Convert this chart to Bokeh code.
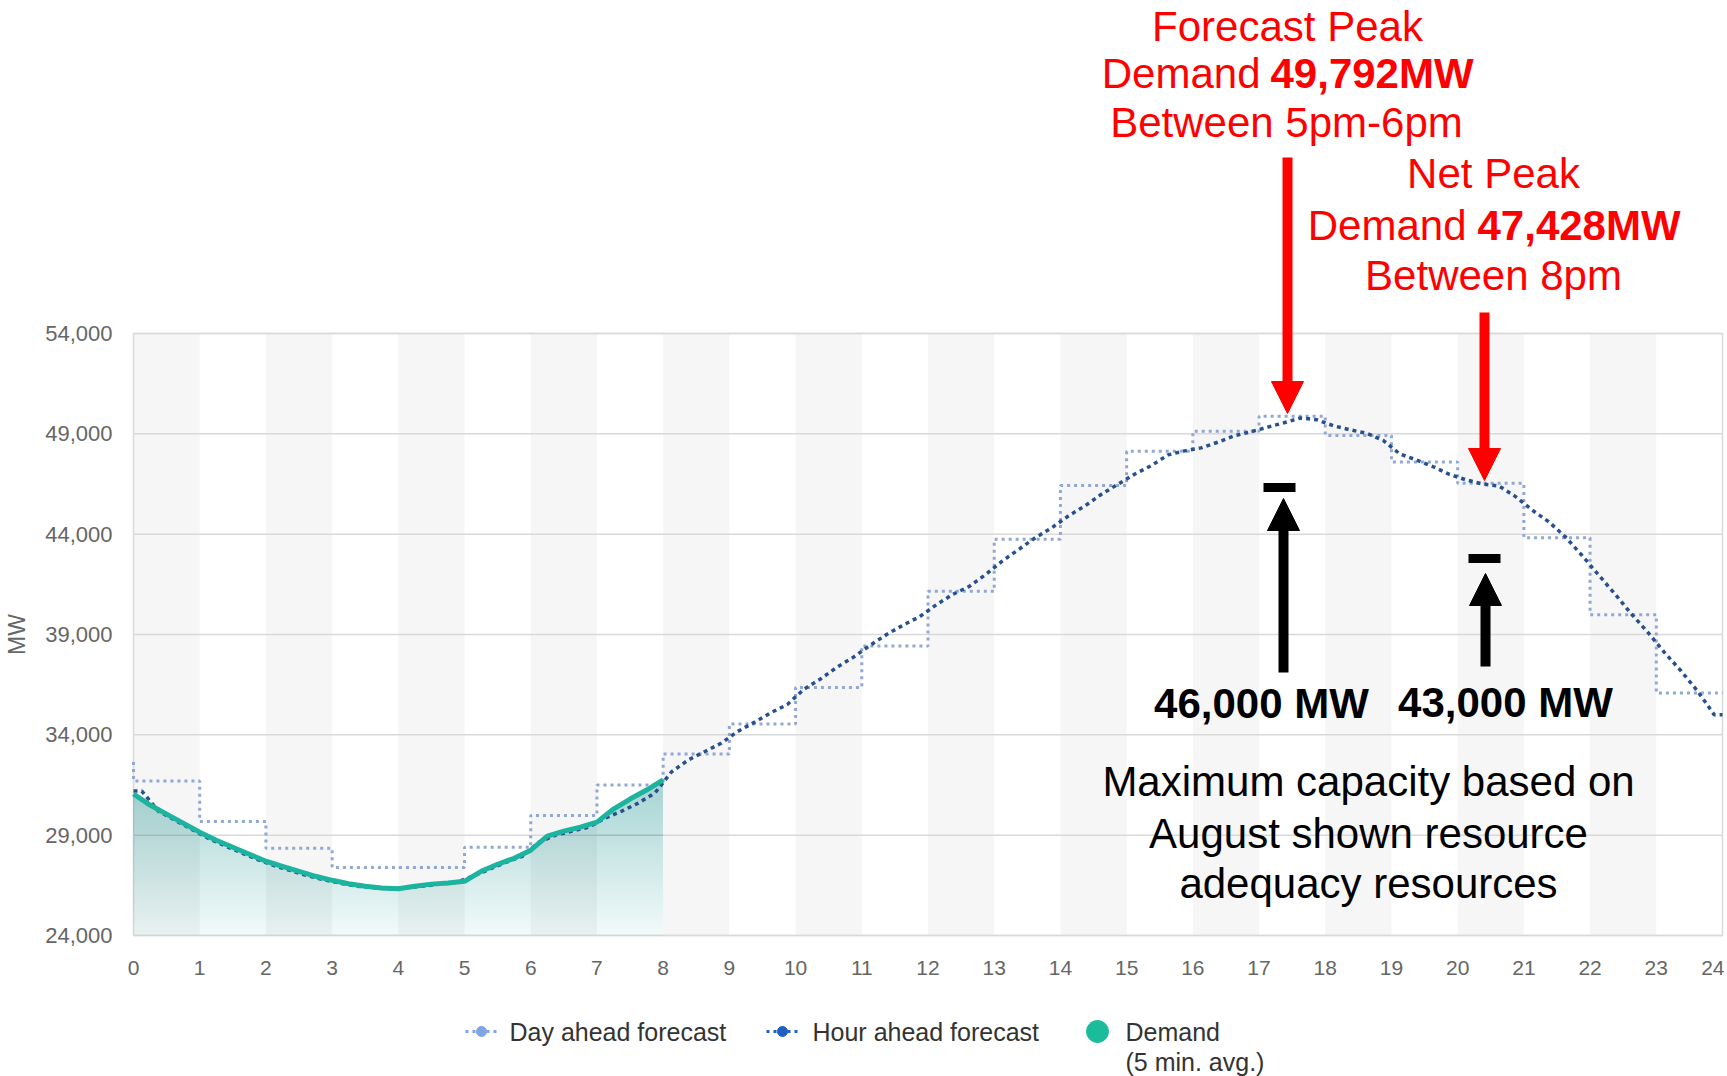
import numpy as np
from bokeh.plotting import figure
from bokeh.models import Label, Arrow, NormalHead, Range1d
from bokeh.core.properties import value
from bokeh.embed import file_html
from bokeh.resources import INLINE

# ---------------- data ----------------
hour_ticks = list(range(25))
y_ticks = [24000, 29000, 34000, 39000, 44000, 49000, 54000]

day_ahead_start = 32650
day_ahead = [31700, 29680, 28350, 27390, 27390, 28400, 29980, 31500,
             33040, 34540, 36360, 38430, 41150, 43750, 46420, 48130,
             49130, 49880, 48920, 47600, 46540, 43820, 39990, 36090]

hour_ahead = [31200, 30200, 29750, 29300, 28850, 28480, 28130, 27780,
              27480, 27230, 26980, 26780, 26600, 26460, 26380, 26330,
              26380, 26460, 26560, 26650, 26950, 27300, 27650, 27950,
              28650, 29000, 29200, 29400, 29850, 30200, 30600, 31100,
              32150, 32740, 33160, 33580, 34170, 34620, 35100, 35510,
              36270, 36780, 37370, 37870, 38460, 39000, 39470, 39890,
              40480, 41000, 41400, 42000, 42670, 43250, 43830, 44330,
              44920, 45420, 46000, 46500, 47000, 47420, 47950, 48150,
              48300, 48580, 48900, 49100, 49330, 49550, 49790, 49700,
              49400, 49200, 49030, 48670, 48000, 47700, 47370, 46980,
              46710, 46500, 46400, 45870, 45200, 44620, 43870, 42950,
              41980, 41020, 40020, 39100, 38100, 37180, 36170, 35000]

demand = [31050, 30500, 30050, 29600, 29150, 28750, 28400, 28050,
          27700, 27450, 27200, 26950, 26750, 26580, 26450, 26370,
          26330, 26450, 26560, 26620, 26700, 27200, 27550, 27850,
          28250, 28950, 29200, 29400, 29650, 30300, 30800, 31250, 31750]

legend_labels = ["Day ahead forecast", "Hour ahead forecast", "Demand",
                 "(5 min. avg.)"]

# ---------------- layout (pixels) ----------------
W, H = 1727, 1076
FL, FT, FW, FH = 133, 333, 1589, 602          # plot area
XMIN, XMAX = 0, 24
YMIN, YMAX = 24000, 54000
PXH = FW / (XMAX - XMIN)                      # px per hour
MWP = (YMAX - YMIN) / FH                      # MW per px


def hx(px):  # canvas x pixel -> hour
    return XMIN + (px - FL) / PXH


def my(py):  # canvas y pixel -> MW
    return YMAX - (py - FT) * MWP


# ---------------- derived series ----------------
step = 0.25
da_x = [0] + hour_ticks
da_y = [day_ahead_start] + day_ahead + [day_ahead[-1]]

ha_x = [0] + [i * step + step / 2 for i in range(len(hour_ahead))] + [24]
ha_y = [hour_ahead[0]] + hour_ahead + [hour_ahead[-1]]

dm_x = np.array([i * step for i in range(len(demand))])
dm_y = np.array(demand, dtype=float)

# ---------------- figure ----------------
TEAL = "#1cb49e"
DA_COL = "#92a8d4"
HA_COL = "#27508c"
RED = "#ff0000"
GRID = "#d9d9d9"
TICK = "#666666"
FONT = "Liberation Sans"

p = figure(width=W, height=H,
           x_range=Range1d(hx(0), hx(W)), y_range=Range1d(my(H), my(0)),
           output_backend="svg", toolbar_location=None,
           x_axis_location=None, y_axis_location=None,
           min_border=0)
p.outline_line_color = None
p.grid.visible = False
p.background_fill_color = "white"
p.border_fill_color = "white"

# alternating hour bands
even = hour_ticks[0:24:2]
p.quad(left=even, right=[h + 1 for h in even], bottom=YMIN, top=YMAX,
       fill_color="#f6f6f6", line_color=None)

# horizontal grid lines
p.segment(x0=XMIN, x1=XMAX, y0=y_ticks, y1=y_ticks, line_color=GRID,
          line_width=1.5)
# plot-area border
p.quad(left=XMIN, right=XMAX, bottom=YMIN, top=YMAX, fill_color=None,
       line_color=GRID, line_width=1.5)

# y tick labels
p.text(x=hx(FL - 21), y=y_ticks, text=[f"{v:,}" for v in y_ticks],
       text_align="right", text_baseline="middle", text_font=value(FONT),
       text_font_size="22px", text_color=TICK)
# x tick labels
p.text(x=hour_ticks[:-1], y=my(967), text=[str(h) for h in hour_ticks[:-1]],
       text_align="center", text_baseline="middle", text_font=value(FONT),
       text_font_size="21px", text_color=TICK)
p.text(x=[hx(1724)], y=my(967), text=[str(hour_ticks[-1])],
       text_align="right", text_baseline="middle", text_font=value(FONT),
       text_font_size="21px", text_color=TICK)
# axis title
p.text(x=[hx(16)], y=[(YMIN + YMAX) / 2], text=["MW"], angle=np.pi / 2,
       text_align="center", text_baseline="middle", text_font=value(FONT),
       text_font_size="23px", text_color=TICK)

# demand gradient fill (stacked translucent layers)
p.varea(x=dm_x, y1=YMIN, y2=dm_y, fill_color=TEAL, fill_alpha=0.05)
for lev in np.arange(YMIN, 32000, 200):
    p.varea(x=dm_x, y1=lev, y2=np.maximum(dm_y, lev), fill_color=TEAL,
            fill_alpha=0.0072)

# series
p.step(da_x, da_y, mode="after", line_color=DA_COL, line_width=3,
       line_dash="3 4")
p.line(ha_x, ha_y, line_color=HA_COL, line_width=3.5, line_dash="4 4")
p.line(dm_x, dm_y, line_color=TEAL, line_width=5)

# ---------------- annotations ----------------


def lab(px, py, text, color, align="center", bold=False, size="42px"):
    p.add_layout(Label(x=hx(px), y=my(py), text=text, text_align=align,
                       text_baseline="middle", text_font=FONT,
                       text_font_size=size, text_color=color,
                       text_font_style="bold" if bold else "normal"))


lab(1287, 26, "Forecast Peak", RED)
lab(1260, 73, "Demand", RED, align="right")
lab(1270, 73, "49,792MW", RED, align="left", bold=True)
lab(1286, 122, "Between 5pm-6pm", RED)

lab(1493, 173, "Net Peak", RED)
lab(1466, 225, "Demand", RED, align="right")
lab(1477, 225, "47,428MW", RED, align="left", bold=True)
lab(1493, 275, "Between 8pm", RED)

lab(1261, 703, "46,000 MW", "black", bold=True)
lab(1505, 702, "43,000 MW", "black", bold=True)
lab(1368, 781, "Maximum capacity based on", "black")
lab(1368, 833, "August shown resource", "black")
lab(1368, 883, "adequacy resources", "black")


def arrow(px, py0, py1, color):
    p.add_layout(Arrow(x_start=hx(px), y_start=my(py0), x_end=hx(px),
                       y_end=my(py1), line_color=color, line_width=10,
                       end=NormalHead(size=32, fill_color=color,
                                      line_color=color, line_width=1)))


arrow(1287, 157, 413, RED)
arrow(1484, 312, 480, RED)
arrow(1283, 672, 498, "black")
arrow(1485, 666, 573, "black")

for px0, px1, py in [(1263, 1295, 487), (1468, 1500, 558)]:
    p.add_layout(Arrow(x_start=hx(px0), y_start=my(py), x_end=hx(px1),
                       y_end=my(py), line_color="black", line_width=9,
                       end=None))

# ---------------- legend (drawn) ----------------
ROW1, ROW2 = my(1031), my(1061)

p.line([hx(465), hx(498)], [ROW1, ROW1], line_color="#7ea6e0",
       line_width=3, line_dash="3 4")
p.scatter([hx(481)], [ROW1], size=10, color="#7ea6e0")
p.line([hx(766), hx(799)], [ROW1, ROW1], line_color="#1f5fbf",
       line_width=3, line_dash="3 4")
p.scatter([hx(782)], [ROW1], size=10, color="#1f5fbf")
p.scatter([hx(1097)], [ROW1], size=22, color="#1abc9c")

p.text(x=[hx(509), hx(812), hx(1125), hx(1125)],
       y=[ROW1, ROW1, ROW1, ROW2], text=legend_labels,
       text_align="left", text_baseline="middle", text_font=value(FONT),
       text_font_size="25px", text_color="#333333")

open("out.html", "w").write(file_html(p, INLINE))
